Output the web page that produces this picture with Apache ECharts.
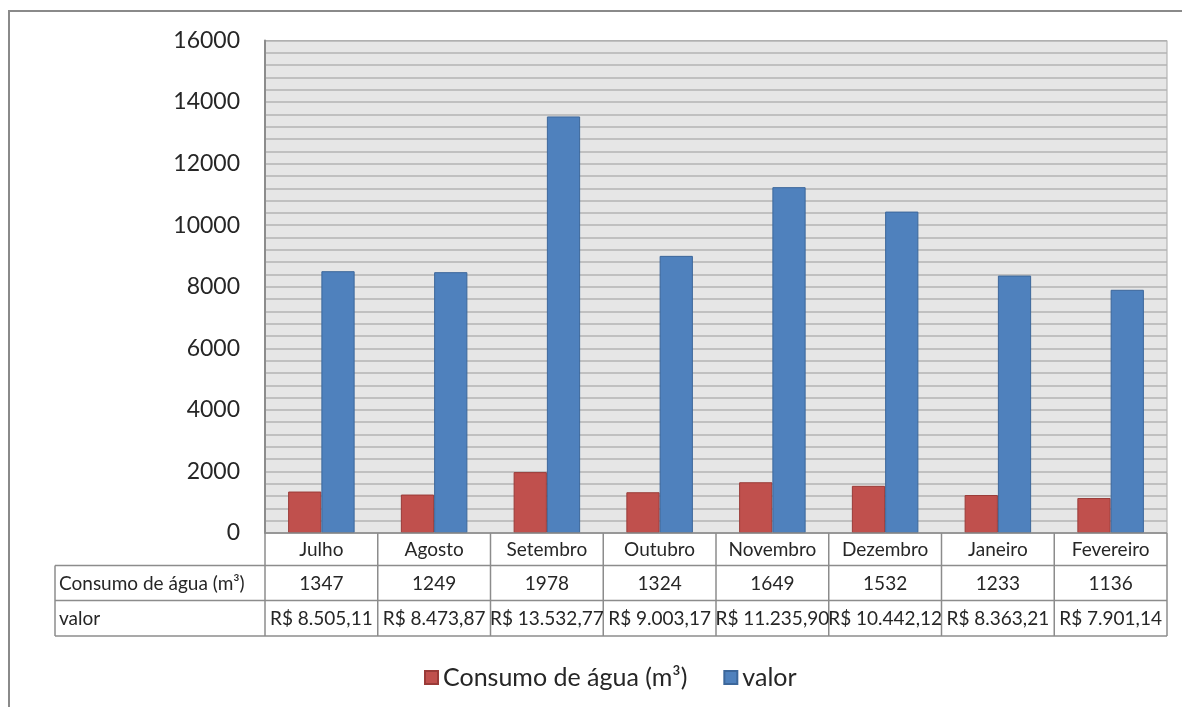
<!DOCTYPE html>
<html><head><meta charset="utf-8">
<script src="https://cdn.jsdelivr.net/npm/echarts@6/dist/echarts.min.js"></script>
<style>html,body{margin:0;padding:0;background:#fff}#c{width:1182px;height:707px}</style>
</head><body><div id="c"></div>
<script>
var categories = ['Julho','Agosto','Setembro','Outubro','Novembro','Dezembro','Janeiro','Fevereiro'];
var consumo = [1347,1249,1978,1324,1649,1532,1233,1136];
var valor = [8505.11,8473.87,13532.77,9003.17,11235.90,10442.12,8363.21,7901.14];
var valorLabels = ['R$ 8.505,11','R$ 8.473,87','R$ 13.532,77','R$ 9.003,17','R$ 11.235,90','R$ 10.442,12','R$ 8.363,21','R$ 7.901,14'];
var seriesNames = ['Consumo de água (m³)','valor'];
var FONT = 'Lato';
var chart = echarts.init(document.getElementById('c'));
var option = {
  animation:false,
  textStyle:{fontFamily:FONT},
  grid:{left:265,right:15,top:40.5,bottom:174,show:true,backgroundColor:'#e6e6e6',borderColor:'#a8a8a8',borderWidth:1},
  legend:{left:419,top:660,itemWidth:13,itemHeight:13,itemGap:36,icon:'rect',
    textStyle:{fontSize:25,color:'#262626',fontFamily:FONT},data:seriesNames},
  xAxis:{type:'category',data:categories,axisTick:{show:false},axisLine:{show:false},
    axisLabel:{show:false}},
  yAxis:{type:'value',min:0,max:16000,interval:400,
    axisLine:{show:true,lineStyle:{color:'#8c8c8c',width:2}},axisTick:{show:false},
    splitLine:{lineStyle:{color:'#b3b3b3',width:1.5}},
    axisLabel:{margin:25,fontSize:23,color:'#262626',fontFamily:FONT,
      formatter:function(v){return v%2000===0?String(v):'';}}},
  series:[
    {name:seriesNames[0],type:'bar',data:consumo,barGap:0,barCategoryGap:'41%',
      itemStyle:{color:'#c0504d',borderColor:'#9a3b38',borderWidth:1}},
    {name:seriesNames[1],type:'bar',data:valor,barGap:0,barCategoryGap:'41%',
      itemStyle:{color:'#4f81bd',borderColor:'#3c679b',borderWidth:1}}
  ]
};
chart.setOption(option);

// data table built from the category axis positions
var x0 = chart.convertToPixel({xAxisIndex:0}, categories[0]);
var x1 = chart.convertToPixel({xAxisIndex:0}, categories[1]);
var bw = x1 - x0;
var left = x0 - bw/2;
var right = left + bw*categories.length;
var yTop = chart.convertToPixel({yAxisIndex:0}, 0);
var rowH = [32.5, 35, 35.5];
var rowsY = [yTop, yTop+rowH[0], yTop+rowH[0]+rowH[1], yTop+rowH[0]+rowH[1]+rowH[2]];
var tableLeft = 55;
var lc = '#8c8c8c', lw = 1.5;
var g = [];
function line(xa,ya,xb,yb){g.push({type:'line',shape:{x1:xa,y1:ya,x2:xb,y2:yb},style:{stroke:lc,lineWidth:lw},z:10});}
function txt(s,x,y,align){g.push({type:'text',x:x,y:y,style:{text:s,fill:'#262626',font:'19px '+FONT,align:align,verticalAlign:'middle'},z:10});}
line(left,rowsY[0],right,rowsY[0]);
line(tableLeft,rowsY[1],right,rowsY[1]);
line(tableLeft,rowsY[2],right,rowsY[2]);
line(tableLeft,rowsY[3],right,rowsY[3]);
line(tableLeft,rowsY[1],tableLeft,rowsY[3]);
for(var i=0;i<=categories.length;i++){ line(left+bw*i,rowsY[0],left+bw*i,rowsY[3]); }
for(var i=0;i<categories.length;i++){
  var cx = left+bw*i+bw/2;
  txt(categories[i],cx,(rowsY[0]+rowsY[1])/2+1,'center');
  txt(String(consumo[i]),cx,(rowsY[1]+rowsY[2])/2+1,'center');
  txt(valorLabels[i],cx,(rowsY[2]+rowsY[3])/2+1,'center');
}
txt(seriesNames[0],59,(rowsY[1]+rowsY[2])/2+1,'left');
txt(seriesNames[1],59,(rowsY[2]+rowsY[3])/2+1,'left');
g.push({type:'polyline',shape:{points:[[9,707],[9,11],[1182,11]]},style:{stroke:'#8a8a8a',lineWidth:2,fill:null},z:10});
chart.setOption({graphic:g});
</script></body></html>
